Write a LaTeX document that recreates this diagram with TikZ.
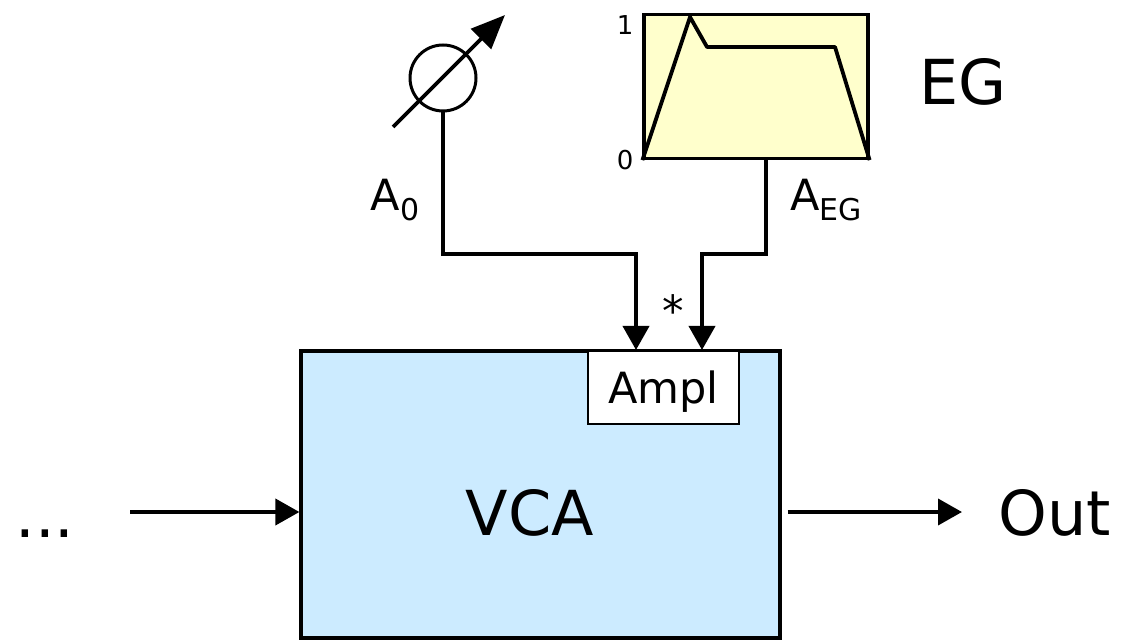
\documentclass[tikz,border=0pt]{standalone}
\usepackage{fontspec}
\setmainfont{DejaVu Sans}
\usetikzlibrary{arrows.meta, positioning}
\definecolor{bleuvca}{RGB}{204,235,255}
\definecolor{jauneeg}{RGB}{255,255,204}
\newcommand{\indice}[2]{#1\raisebox{-5pt}{\fontsize{15}{17}\selectfont #2}}
\tikzset{
    bloc/.style={draw, line width=1.6pt, inner sep=0pt},
    fil/.style={line width=1.9pt},
    sig/.style={fil, -{Triangle[length=12pt,width=13pt]}},
    gros/.style={font=\fontsize{31}{36}\selectfont},
    moyen/.style={font=\fontsize{21.5}{26}\selectfont},
    petit/.style={font=\fontsize{13}{15}\selectfont}
}

\begin{document}
\begin{tikzpicture}[x=0.5pt, y=-0.5pt]
    \useasboundingbox (0,0) rectangle (1122,640);

    % Bloc VCA et entree Ampl
    \node[bloc, fill=bleuvca, minimum width=239.5pt, minimum height=143.5pt] (vca) at (540.5,494.5) {};
    \node[gros] (vcatxt) at (530,513) {VCA};
    \node[bloc, line width=1pt, fill=white, minimum width=75.5pt, minimum height=36.5pt, text depth=0pt, moyen] (ampl) at (663.5,387.5) {Ampl};

    % Generateur d'enveloppe
    \node[bloc, fill=jauneeg, minimum width=112pt, minimum height=72pt] (eg) at (756,86.5) {};
    \draw[fil, line join=round] (eg.south west) -- (690,17) -- (707,47) -- (835,47) -- (eg.south east);
    \node[petit, left=1pt of eg.north west, yshift=-6pt] (un) {1};
    \node[petit, left=1pt of eg.south west] (zero) {0};
    \node[gros] (eglbl) at (963,82) {EG};

    % Potentiometre
    \node[draw, circle, line width=1.5pt, minimum size=33pt, inner sep=0pt] (pot) at (443,78) {};
    \coordinate (potbas) at (393,127);
    \coordinate (pothaut) at (505,15);
    \draw[fil, -{Triangle[length=17pt,width=14pt]}] (potbas) -- (pothaut);

    % Liaisons vers Ampl
    \coordinate (coude) at (0,254);
    \coordinate (entA) at ([xshift=-13.75pt]ampl.north);
    \coordinate (entEG) at ([xshift=19.25pt]ampl.north);
    \coordinate (sortieEG) at ([xshift=5pt]eg.south);
    \draw[sig] (pot.south) |- (entA |- coude) -- (entA);
    \draw[sig] (sortieEG) |- (entEG |- coude) -- (entEG);
    \node[moyen] (a0) at (395,200) {\indice{A}{0}};
    \node[moyen] (aeg) at (826,200) {\indice{A}{EG}};
    \node[moyen] (etoile) at (673,311) {*};

    % Entree et sortie
    \coordinate (entree) at (130,512);
    \node[gros, anchor=base] (points) at (45,537) {...};
    \draw[sig] (entree) -- (entree -| vca.west);
    \coordinate (vcadroite) at ([xshift=3pt]vca.east);
    \coordinate (sortie) at (962,512);
    \draw[sig] (vcadroite |- sortie) -- (sortie);
    \node[gros] (out) at (1055,513) {Out};
\end{tikzpicture}
\end{document}
